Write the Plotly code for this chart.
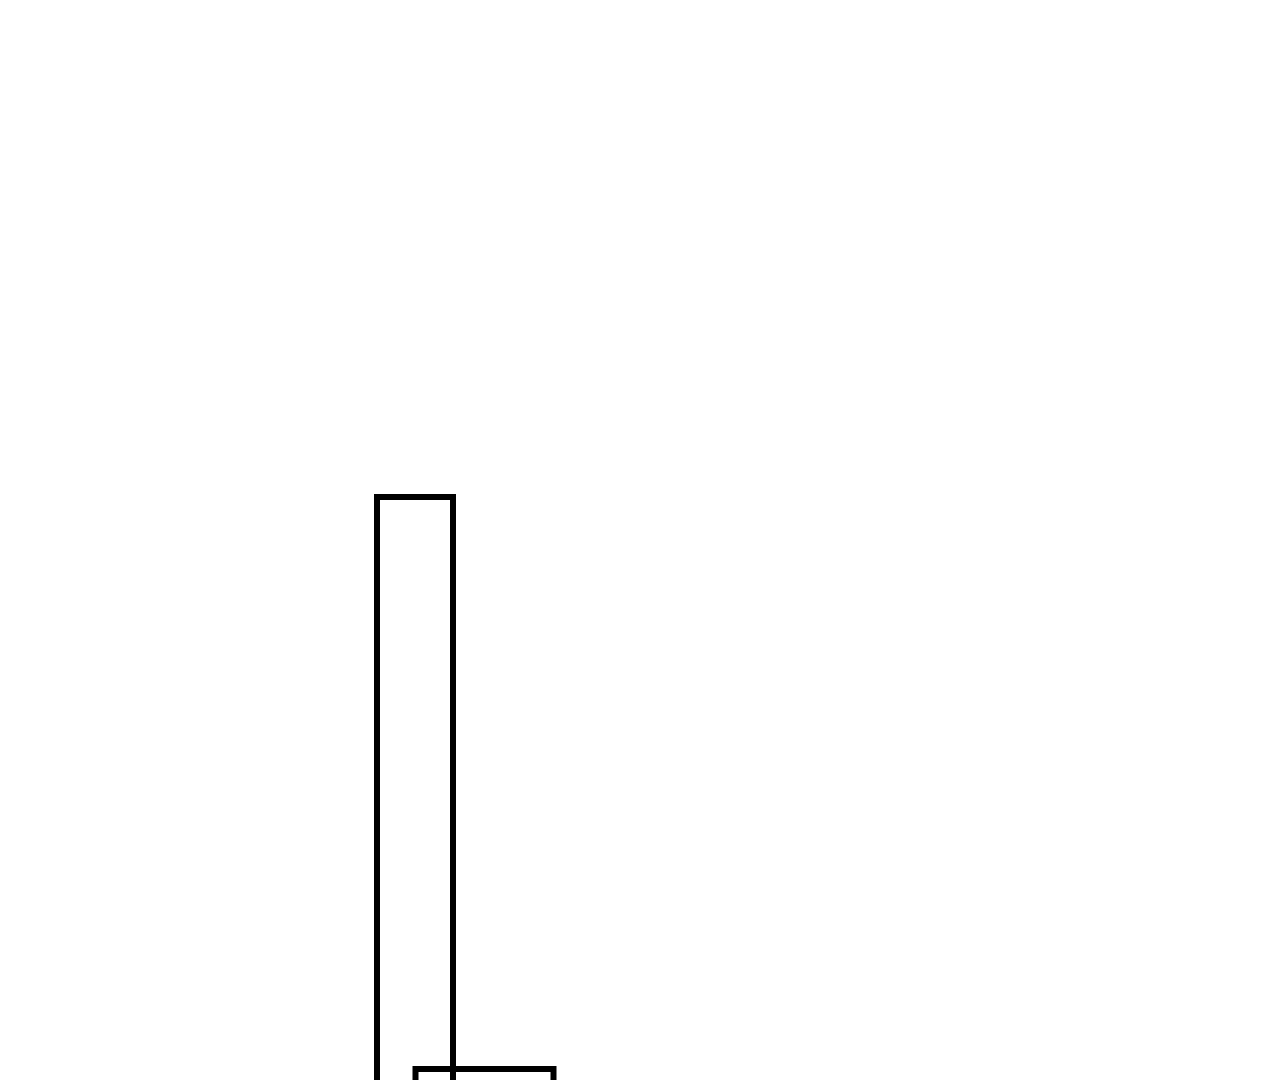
import plotly.graph_objects as go

# two outlined bars, bottoms run off the lower edge
x_centers = [40.7, 47.65]
bar_widths = [7.6, 13.8]
heights = [59.1, 1.9]
bases = [-5, -5]

fig = go.Figure()
for xc, w, h, b in zip(x_centers, bar_widths, heights, bases):
    fig.add_trace(go.Bar(
        x=[xc], y=[h - b], base=[b], width=[w],
        marker=dict(color="rgba(0,0,0,0)", line=dict(color="black", width=6)),
        showlegend=False, hoverinfo="skip",
    ))

fig.update_layout(
    width=1280, height=1080,
    margin=dict(l=0, r=0, t=0, b=0),
    barmode="overlay",
    plot_bgcolor="white", paper_bgcolor="white",
    xaxis=dict(range=[0, 128], visible=False, fixedrange=True),
    yaxis=dict(range=[0, 108], visible=False, fixedrange=True),
)

fig.write_html("out.html")
